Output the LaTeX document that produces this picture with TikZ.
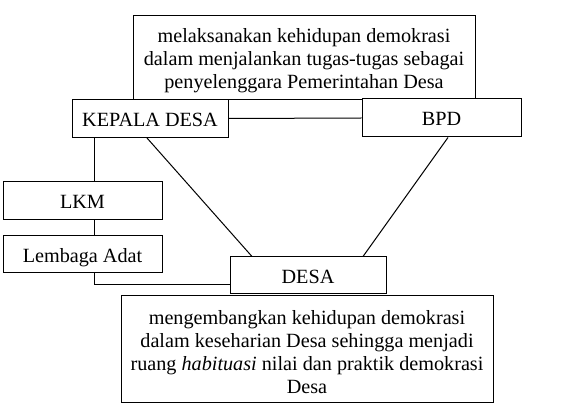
\documentclass[tikz,border=0pt]{standalone}
\usepackage{fontspec}
\setmainfont{Liberation Serif}
\begin{document}
\begin{tikzpicture}[x=1pt,y=-1pt,
  txt/.style={inner sep=0pt, align=center, font=\fontsize{20.2}{23}\selectfont},
  box/.style={draw, line width=1pt, txt},
  one/.style={box, text height=16pt, text depth=0pt},
  conn/.style={line width=1pt}]
\useasboundingbox (0,0) rectangle (582,414);
\node[box, minimum width=342pt, minimum height=84pt,
  label={[txt, yshift=-3pt]center:melaksanakan kehidupan demokrasi\\dalam menjalankan tugas-tugas sebagai\\penyelenggara Pemerintahan Desa}] (top) at (304,58) {};
\node[one, minimum width=156pt, minimum height=38pt, fill=white] (kd) at (150,118.5) {KEPALA DESA};
\node[one, minimum width=159pt, minimum height=38pt, fill=white] (bpd) at (441.5,118) {BPD};
\node[one, minimum width=159pt, minimum height=38pt] (lkm) at (82.5,201) {LKM};
\node[one, minimum width=159pt, minimum height=37pt] (adat) at (82.5,254.5) {Lembaga Adat};
\node[one, minimum width=156pt, minimum height=37pt] (desa) at (308,275.5) {DESA};
\node[box, minimum width=372pt, minimum height=107pt,
  label={[txt, yshift=-3pt]center:mengembangkan kehidupan demokrasi\\dalam keseharian Desa sehingga menjadi\\ruang \textit{habituasi} nilai dan praktik demokrasi\\Desa}] (bot) at (307,349.5) {};
\draw[conn] (kd.east) -- (bpd.west);
\draw[conn] ([xshift=11.5pt]lkm.north |- kd.south) -- ([xshift=11.5pt]lkm.north);
\draw[conn] ([xshift=11.5pt]lkm.south) -- ([xshift=11.5pt]adat.north);
\draw[conn] ([xshift=11.5pt]adat.south) |- ([yshift=-9.5pt]desa.west);
\draw[conn] ([xshift=-3pt]kd.south) -- ([xshift=-56pt]desa.north);
\draw[conn] ([xshift=6.5pt]bpd.south) -- ([xshift=55pt]desa.north);
\end{tikzpicture}
\end{document}
